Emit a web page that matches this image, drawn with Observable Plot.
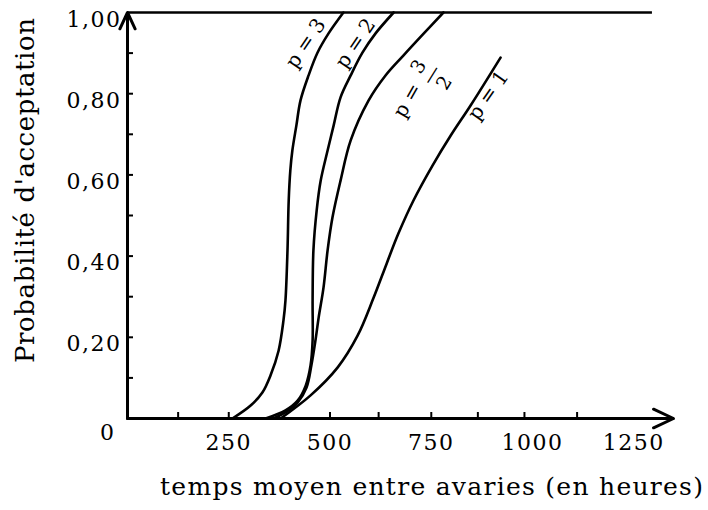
<!DOCTYPE html>
<html><head><meta charset="utf-8">
<script src="https://cdn.jsdelivr.net/npm/d3@7"></script>
<script src="https://cdn.jsdelivr.net/npm/@observablehq/plot@0.6"></script>
<style>body{margin:0;background:#fff}</style>
</head><body><div id="chart"></div>
<script>
// Courbes d'efficacité : [heures, probabilité d'acceptation]
const curveP3  = [[259,0],[304,0.032],[333,0.064],[353,0.106],[373,0.167],[385,0.241],[390,0.291],[395,0.414],[398,0.537],[402,0.611],[407,0.66],[417,0.722],[427,0.783],[447,0.845],[469,0.901],[496,0.948],[533,1]];
const curveP2  = [[341,0],[390,0.02],[420,0.044],[440,0.081],[452,0.131],[457,0.192],[457,0.291],[459,0.414],[467,0.512],[477,0.586],[494,0.66],[509,0.722],[526,0.791],[551,0.845],[580,0.901],[612,0.948],[657,1]];
const curveP32 = [[360,0],[390,0.015],[420,0.039],[442,0.076],[454,0.131],[464,0.192],[472,0.249],[484,0.323],[494,0.414],[506,0.495],[526,0.586],[551,0.685],[595,0.783],[637,0.845],[681,0.894],[731,0.948],[780,1]];
const curveP1  = [[378,0],[452,0.057],[519,0.126],[568,0.204],[607,0.296],[640,0.382],[669,0.456],[706,0.537],[753,0.623],[798,0.697],[847,0.771],[921,0.889]];

const curveLabels = [
  {h: 440, p: 0.924, text: "p = 3", angle: -56},
  {h: 563, p: 0.924, text: "p = 2", angle: -56},
  {h: 691, p: 0.783, text: "p =", angle: -60},
  {h: 891, p: 0.796, text: "p = 1", angle: -55}
];
const fractionLabels = [{h: 753, p: 0.845, text: "3\n—\n2", angle: -58}];

const yMinorTicks = [0.1,0.2,0.3,0.4,0.5,0.6,0.7,0.8,0.9];
const yLabelTicks = [0.2,0.4,0.6,0.8,1];
const xMinorTicks = [125,250,500,620,750,865,980,1110];
const xLabelTicks = [250,500,750,1000,1250];
const xAxisEnd = 1348;
const topLineEnd = 1296;
const yTitle = "Probabilité d'acceptation";
const xTitle = "temps moyen entre avaries (en heures)";

const font = "DejaVu Serif";

const chart = Plot.plot({
  width: 708, height: 510,
  marginLeft: 127, marginRight: 35, marginTop: 12, marginBottom: 92,
  style: {fontFamily: font, fontSize: "20px", color: "black", background: "white"},
  x: {domain: [0, xAxisEnd]},
  y: {domain: [0, 1]},
  marks: [
    Plot.ruleY([1], {x1: 0, x2: topLineEnd, strokeWidth: 2.5}),
    Plot.arrow([0], {x1: 0, y1: 0, x2: xAxisEnd, y2: 0, strokeWidth: 3, headLength: 11, headAngle: 50}),
    Plot.arrow([0], {x1: 0, y1: 0, x2: 0, y2: 1, strokeWidth: 3, headLength: 9, headAngle: 50}),
    Plot.axisY({ticks: yMinorTicks, tickSize: -6, text: null, strokeWidth: 2, label: null}),
    Plot.axisX({ticks: xMinorTicks, tickSize: -6, text: null, strokeWidth: 2, label: null}),
    Plot.axisY({ticks: yLabelTicks, tickSize: 0, tickPadding: 6, dy: 7, fontSize: 22, label: null,
      tickFormat: d => d.toFixed(2).replace(".", ",")}),
    Plot.axisY({ticks: [0], tickSize: 0, tickPadding: 12, dy: 14, fontSize: 22, label: null, tickFormat: () => "0"}),
    Plot.axisX({ticks: xLabelTicks, tickSize: 0, tickPadding: 16, fontSize: 22, label: null, tickFormat: d => String(d)}),
    Plot.line(curveP3,  {x: d => d[0], y: d => d[1], curve: "catmull-rom", strokeWidth: 2.6}),
    Plot.line(curveP2,  {x: d => d[0], y: d => d[1], curve: "catmull-rom", strokeWidth: 2.6}),
    Plot.line(curveP32, {x: d => d[0], y: d => d[1], curve: "catmull-rom", strokeWidth: 2.6}),
    Plot.line(curveP1,  {x: d => d[0], y: d => d[1], curve: "catmull-rom", strokeWidth: 2.6}),
    Plot.text(curveLabels, {x: "h", y: "p", text: "text", rotate: "angle", fontSize: 20}),
    Plot.text(fractionLabels, {x: "h", y: "p", text: "text", rotate: "angle", fontSize: 19, lineHeight: 0.8}),
    Plot.text([yTitle], {frameAnchor: "left", rotate: -90, dx: -94, dy: -25, lineAnchor: "bottom", textAnchor: "middle", fontSize: 26}),
    Plot.text([xTitle], {frameAnchor: "bottom", dx: 31, dy: 76, lineAnchor: "bottom", textAnchor: "middle", fontSize: 25})
  ]
});
document.getElementById("chart").appendChild(chart);

const svg = d3.select(chart);
svg.selectAll('g[aria-label="y-axis tick label"] text, g[aria-label="x-axis tick label"] text')
  .style("letter-spacing", "1.5px");
svg.selectAll("text").filter(function() { return this.textContent === yTitle; })
  .attr("textLength", 345).attr("lengthAdjust", "spacing");
svg.selectAll("text").filter(function() { return this.textContent === xTitle; })
  .attr("textLength", 543).attr("lengthAdjust", "spacing");
</script>
</body></html>
